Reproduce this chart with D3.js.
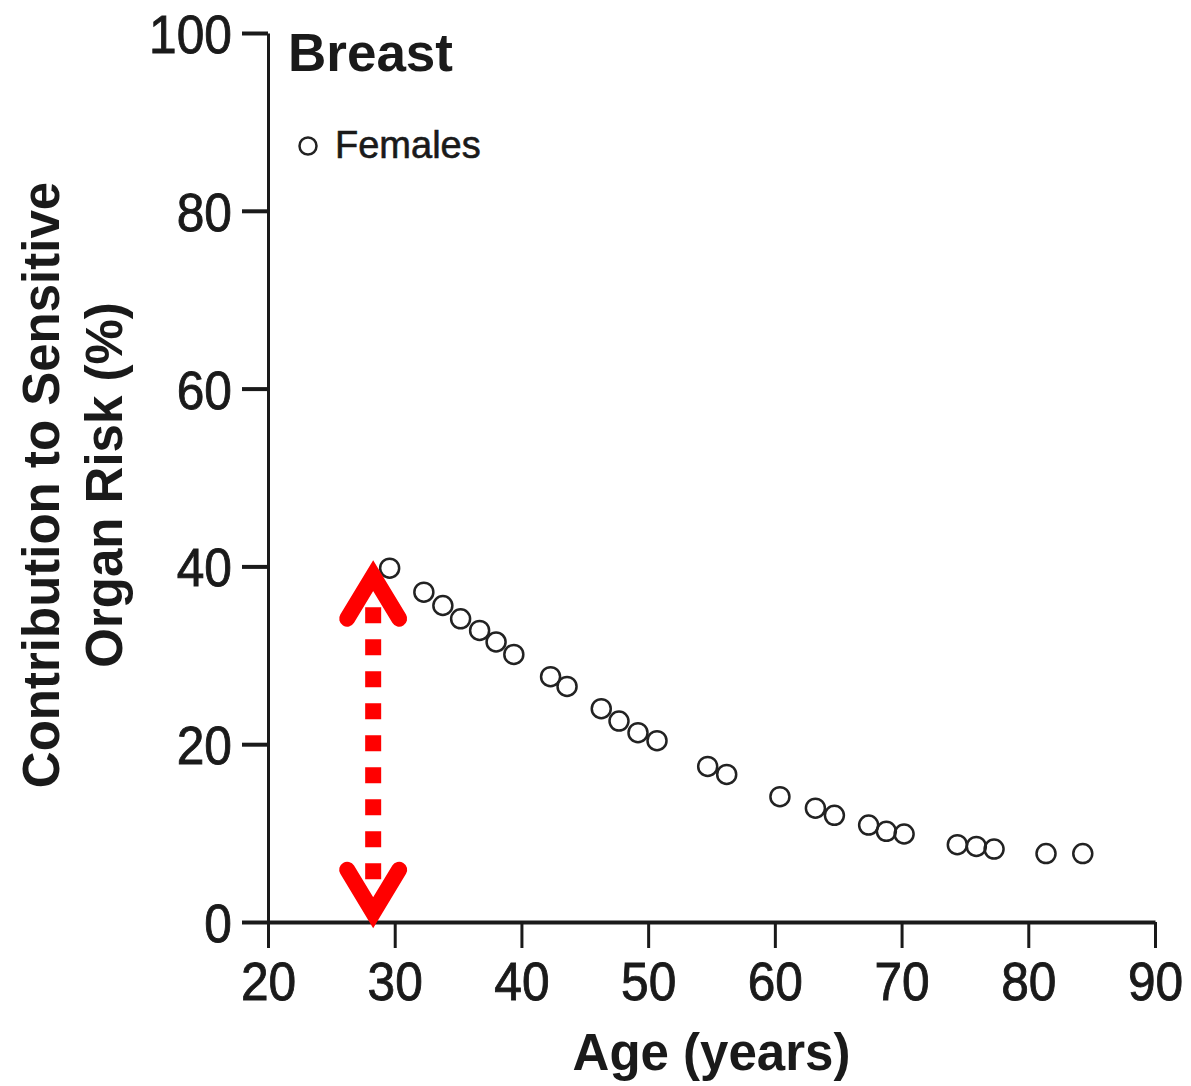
<!DOCTYPE html>
<html>
<head>
<meta charset="utf-8">
<script src="https://cdn.jsdelivr.net/npm/d3@7"></script>
<style>
body{margin:0;background:#fff;}
svg{display:block;}
</style>
</head>
<body>
<svg id="chart"></svg>
<script>
/**
 * breast - contribution to sensitive organ risk by age
 */

/** data */
var ages = [29.6,32.3,33.8,35.2,36.7,38.0,39.4,42.3,43.6,46.3,47.7,49.2,50.7,54.7,56.2,60.4,63.2,64.7,67.4,68.8,70.2,74.4,75.9,77.3,81.4,84.3];
var contributions = [39.8,37.1,35.6,34.1,32.8,31.5,30.1,27.6,26.5,24.0,22.6,21.3,20.4,17.5,16.6,14.1,12.8,12.0,10.9,10.2,9.9,8.7,8.5,8.2,7.7,7.7];
var xTicks = [20,30,40,50,60,70,80,90];
var yTicks = [0,20,40,60,80,100];
var xDomain = [20,90];
var yDomain = [0,100];
var panelTitle = 'Breast';
var seriesName = 'Females';
var xTitle = 'Age (years)';
var yTitleLines = ['Contribution to Sensitive','Organ Risk (%)'];
/** red double arrow annotation (age, low tip, high tip) */
var arrowAge = 28.3;
var arrowTips = [-0.7,40.7];

var width = 1191, height = 1086;
var margin = {top:33, right:36, bottom:164, left:268};
var fontFamily = 'Arial, "Liberation Sans", Helvetica, sans-serif';
var ink = '#1a1a1a';

var svg = d3.select('#chart').attr('width',width).attr('height',height);
svg.append('rect').attr('width',width).attr('height',height).attr('fill','#fff');

var x = d3.scaleLinear().domain(xDomain).range([margin.left, width - margin.right]);
var y = d3.scaleLinear().domain(yDomain).range([height - margin.bottom, margin.top]);

/** condense tick labels a bit like the original typeface */
function condense(sel, sx){
	sel.each(function(){
		var t = d3.select(this);
		var tx = +t.attr('x') || 0;
		t.attr('x',0).attr('transform','translate(' + tx + ',0) scale(' + sx + ',1)');
	});
}

// y axis
var yAxis = svg.append('g')
	.attr('transform','translate(' + margin.left + ',0)')
	.call(d3.axisLeft(y).tickValues(yTicks).tickSize(26).tickSizeOuter(0).tickPadding(10));
yAxis.select('.domain').attr('stroke',ink).attr('stroke-width',3);
yAxis.selectAll('.tick line').attr('stroke',ink).attr('stroke-width',4);
yAxis.selectAll('.tick text')
	.attr('font-family',fontFamily).attr('font-size',54).attr('fill',ink)
	.attr('stroke',ink).attr('stroke-width',0.9)
	.attr('dy','0.36em')
	.call(condense,0.92);

// x axis
var xAxis = svg.append('g')
	.attr('transform','translate(0,' + y(0) + ')')
	.call(d3.axisBottom(x).tickValues(xTicks).tickSize(26).tickSizeOuter(0).tickPadding(14));
xAxis.select('.domain').attr('stroke',ink).attr('stroke-width',4);
xAxis.selectAll('.tick line').attr('stroke',ink).attr('stroke-width',3);
xAxis.selectAll('.tick text')
	.attr('font-family',fontFamily).attr('font-size',54).attr('fill',ink)
	.attr('stroke',ink).attr('stroke-width',0.9)
	.call(condense,0.92);

// axis titles
svg.append('text')
	.attr('x',(x(xDomain[0]) + x(xDomain[1]))/2)
	.attr('y',1070)
	.attr('text-anchor','middle')
	.attr('font-family',fontFamily).attr('font-weight','bold').attr('font-size',51)
	.attr('fill',ink)
	.text(xTitle);

var yTitle = svg.append('text')
	.attr('transform','rotate(-90)')
	.attr('text-anchor','middle')
	.attr('font-family',fontFamily).attr('font-weight','bold').attr('font-size',51)
	.attr('fill',ink);
yTitle.selectAll('tspan').data(yTitleLines).enter().append('tspan')
	.attr('x',-485)
	.attr('y',function(d,i){return 59 + i*63;})
	.text(function(d){return d;});

// panel title and legend
svg.append('text')
	.attr('x',288).attr('y',71)
	.attr('font-family',fontFamily).attr('font-weight','bold').attr('font-size',53)
	.attr('fill',ink)
	.text(panelTitle);
svg.append('circle')
	.attr('cx',308).attr('cy',146).attr('r',8.5)
	.attr('fill','#fff').attr('stroke','#222').attr('stroke-width',2.5);
svg.append('text')
	.attr('x',335).attr('y',158)
	.attr('font-family',fontFamily).attr('font-size',38)
	.attr('fill',ink).attr('stroke',ink).attr('stroke-width',0.6)
	.text(seriesName);

// data points
var points = ages.map(function(a,i){return {age:a, value:contributions[i]};});
svg.append('g').selectAll('circle').data(points).enter().append('circle')
	.attr('cx',function(d){return x(d.age);})
	.attr('cy',function(d){return y(d.value);})
	.attr('r',9.5)
	.attr('fill','none')
	.attr('stroke','#222')
	.attr('stroke-width',2.5);

// red dotted double arrow
var red = '#ff0000';
var ax = x(arrowAge);
var yLow = y(arrowTips[0]), yHigh = y(arrowTips[1]);
var arrow = svg.append('g');
arrow.append('line')
	.attr('x1',ax).attr('x2',ax)
	.attr('y1',yHigh + 47).attr('y2',yLow - 49)
	.attr('stroke',red).attr('stroke-width',16)
	.attr('stroke-dasharray','16,16');
/** chevron arrowheads, dir -1 points up, +1 points down */
function chevron(tipY, dir){
	var vy = tipY - dir*15.5;
	var ey = vy - dir*43;
	arrow.append('path')
		.attr('d','M' + (ax - 26) + ',' + ey + 'L' + ax + ',' + vy + 'L' + (ax + 26) + ',' + ey)
		.attr('fill','none')
		.attr('stroke',red).attr('stroke-width',16)
		.attr('stroke-linecap','round').attr('stroke-linejoin','miter');
}
chevron(yHigh,-1);
chevron(yLow,1);
</script>
</body>
</html>
